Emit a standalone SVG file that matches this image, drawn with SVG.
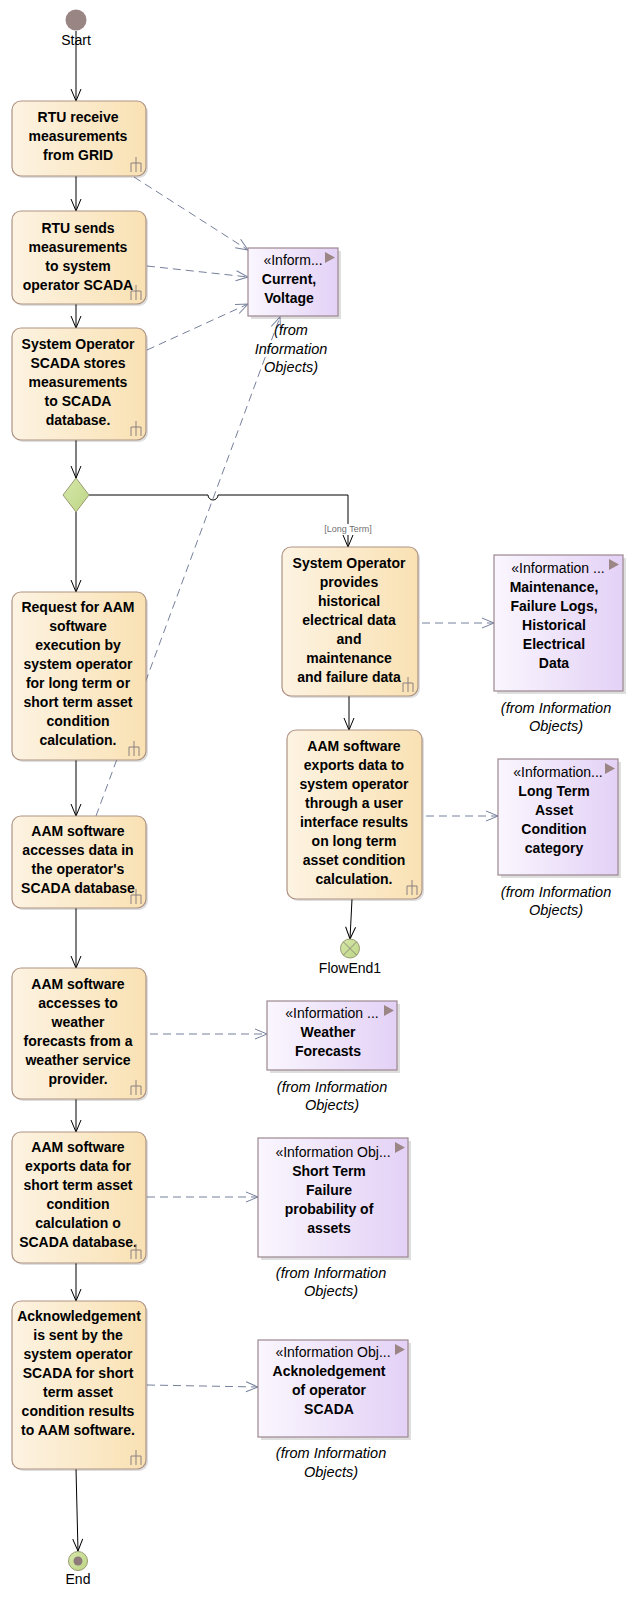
<svg xmlns="http://www.w3.org/2000/svg" width="636" height="1610" viewBox="0 0 636 1610">
<style>
text{font-family:"Liberation Sans",Arial,sans-serif;fill:#000}
.b{font-weight:bold;font-size:14px;text-anchor:middle}
.st{font-size:14px;text-anchor:middle}
.fr{font-style:italic;font-size:14.5px;text-anchor:middle}
.lbl{font-size:14px;text-anchor:middle}
.guard{font-size:9px;fill:#707070;text-anchor:middle}
.act{fill:url(#actG);stroke:#ae9384;stroke-width:1.2}
.info{fill:url(#infoG);stroke:#9c8890;stroke-width:1.2}
.sh{fill:#000;opacity:0.13}
.icon{fill:none;stroke:#8c8080;stroke-width:1}
.tri{fill:#9b8585}
.flow{fill:none;stroke:#000;stroke-width:1;marker-end:url(#arr)}
.dep{fill:none;stroke:#76809c;stroke-width:1;stroke-dasharray:8 5;marker-end:url(#darr)}
</style>
<defs>
<linearGradient id="actG" x1="0" y1="0" x2="1" y2="0"><stop offset="0" stop-color="#fdf3e2"/><stop offset="1" stop-color="#f9e1b3"/></linearGradient>
<linearGradient id="infoG" x1="0" y1="0" x2="1" y2="0"><stop offset="0" stop-color="#faf6fe"/><stop offset="1" stop-color="#e3d1f6"/></linearGradient>
<linearGradient id="grnG" x1="0" y1="0" x2="1" y2="1"><stop offset="0" stop-color="#d6e8aa"/><stop offset="1" stop-color="#bdd585"/></linearGradient>
<marker id="arr" viewBox="-1 -7 14 14" refX="12" refY="0" markerWidth="14" markerHeight="14" markerUnits="userSpaceOnUse" orient="auto"><path d="M0,-5 L12,0 L0,5" fill="none" stroke="#000" stroke-width="1"/></marker>
<marker id="darr" viewBox="-1 -7 14 14" refX="12" refY="0" markerWidth="14" markerHeight="14" markerUnits="userSpaceOnUse" orient="auto"><path d="M0,-5 L12,0 L0,5" fill="none" stroke="#76809c" stroke-width="1"/></marker>
</defs>
<rect width="636" height="1610" fill="#fff"/>

<g id="connectors">
<path class="flow" d="M76,31 L76,101"/>
<path class="flow" d="M76,176 L76,211"/>
<path class="flow" d="M76,304 L76,328"/>
<path class="flow" d="M76,440 L76,478"/>
<path class="flow" d="M76,512 L76,592"/>
<path class="flow" d="M89,495 L208,495 A5,5 0 0 0 218,495 L348,495 L348,547"/>
<rect x="323" y="524" width="50" height="11" fill="#fff"/>
<text class="guard" x="348" y="532">[Long Term]</text>
<path class="flow" d="M349,696 L349,730"/>
<path class="flow" d="M352,899 L350,939"/>
<path class="flow" d="M76,760 L76,816"/>
<path class="flow" d="M76,908 L76,968"/>
<path class="flow" d="M76,1099 L76,1132"/>
<path class="flow" d="M76,1263 L76,1301"/>
<path class="flow" d="M76,1469 L78,1551"/>
<path class="dep" d="M134,177 L248,250"/>
<path class="dep" d="M147,266 L248,277"/>
<path class="dep" d="M147,350 L248,304"/>
<path class="dep" d="M96,816 L280,317"/>
<path class="dep" d="M422,623 L494,623"/>
<path class="dep" d="M426,816 L498,816"/>
<path class="dep" d="M150,1034 L267,1034"/>
<path class="dep" d="M147,1197 L258,1197"/>
<path class="dep" d="M147,1385 L258,1387"/>
</g>

<g id="start">
<circle cx="76" cy="20" r="10.5" fill="#9a8585"/>
<text class="lbl" x="76" y="45">Start</text>
</g>

<g id="a1">
<rect class="sh" x="14" y="103" width="134" height="75" rx="9"/>
<rect class="act" x="12" y="101" width="134" height="75" rx="9"/>
<text class="b" x="78"><tspan x="78" y="122">RTU receive</tspan><tspan x="78" y="141">measurements</tspan><tspan x="78" y="160">from GRID</tspan></text>
<path class="icon" d="M136,157 V172 M131,172 V163 H141 V172"/>
</g>

<g id="a2">
<rect class="sh" x="14" y="213" width="134" height="93" rx="9"/>
<rect class="act" x="12" y="211" width="134" height="93" rx="9"/>
<text class="b"><tspan x="78" y="233">RTU sends</tspan><tspan x="78" y="252">measurements</tspan><tspan x="78" y="271">to system</tspan><tspan x="78" y="290">operator SCADA</tspan></text>
<path class="icon" d="M136,285 V300 M131,300 V291 H141 V300"/>
</g>

<g id="a3">
<rect class="sh" x="14" y="330" width="134" height="112" rx="9"/>
<rect class="act" x="12" y="328" width="134" height="112" rx="9"/>
<text class="b"><tspan x="78" y="349">System Operator</tspan><tspan x="78" y="368">SCADA stores</tspan><tspan x="78" y="387">measurements</tspan><tspan x="78" y="406">to SCADA</tspan><tspan x="78" y="425">database.</tspan></text>
<path class="icon" d="M136,421 V436 M131,436 V427 H141 V436"/>
</g>

<g id="decision">
<path d="M76,478 L89,495 L76,512 L63,495 Z" fill="url(#grnG)" stroke="#9a9a70" stroke-width="1"/>
</g>

<g id="a4">
<rect class="sh" x="14" y="594" width="134" height="168" rx="9"/>
<rect class="act" x="12" y="592" width="134" height="168" rx="9"/>
<text class="b"><tspan x="78" y="612">Request for AAM</tspan><tspan x="78" y="631">software</tspan><tspan x="78" y="650">execution by</tspan><tspan x="78" y="669">system operator</tspan><tspan x="78" y="688">for long term or</tspan><tspan x="78" y="707">short term asset</tspan><tspan x="78" y="726">condition</tspan><tspan x="78" y="745">calculation.</tspan></text>
<path class="icon" d="M134,741 V756 M129,756 V747 H139 V756"/>
</g>

<g id="a5">
<rect class="sh" x="14" y="818" width="134" height="92" rx="9"/>
<rect class="act" x="12" y="816" width="134" height="92" rx="9"/>
<text class="b"><tspan x="78" y="836">AAM software</tspan><tspan x="78" y="855">accesses data in</tspan><tspan x="78" y="874">the operator's</tspan><tspan x="78" y="893">SCADA database</tspan></text>
<path class="icon" d="M136,889 V904 M131,904 V895 H141 V904"/>
</g>

<g id="a6">
<rect class="sh" x="284" y="549" width="136" height="149" rx="9"/>
<rect class="act" x="282" y="547" width="136" height="149" rx="9"/>
<text class="b"><tspan x="349" y="568">System Operator</tspan><tspan x="349" y="587">provides</tspan><tspan x="349" y="606">historical</tspan><tspan x="349" y="625">electrical data</tspan><tspan x="349" y="644">and</tspan><tspan x="349" y="663">maintenance</tspan><tspan x="349" y="682">and failure data</tspan></text>
<path class="icon" d="M408,677 V692 M403,692 V683 H413 V692"/>
</g>

<g id="a7">
<rect class="sh" x="289" y="732" width="135" height="169" rx="9"/>
<rect class="act" x="287" y="730" width="135" height="169" rx="9"/>
<text class="b"><tspan x="354" y="751">AAM software</tspan><tspan x="354" y="770">exports data to</tspan><tspan x="354" y="789">system operator</tspan><tspan x="354" y="808">through a user</tspan><tspan x="354" y="827">interface results</tspan><tspan x="354" y="846">on long term</tspan><tspan x="354" y="865">asset condition</tspan><tspan x="354" y="884">calculation.</tspan></text>
<path class="icon" d="M412,880 V895 M407,895 V886 H417 V895"/>
</g>

<g id="flowend">
<circle cx="350" cy="948.5" r="9.5" fill="url(#grnG)" stroke="#9a9a70" stroke-width="1"/>
<path d="M343.3,941.8 L356.7,955.2 M356.7,941.8 L343.3,955.2" stroke="#8c8a78" stroke-width="1"/>
<text class="lbl" x="350" y="973">FlowEnd1</text>
</g>

<g id="a8">
<rect class="sh" x="14" y="970" width="134" height="131" rx="9"/>
<rect class="act" x="12" y="968" width="134" height="131" rx="9"/>
<text class="b"><tspan x="78" y="989">AAM software</tspan><tspan x="78" y="1008">accesses to</tspan><tspan x="78" y="1027">weather</tspan><tspan x="78" y="1046">forecasts from a</tspan><tspan x="78" y="1065">weather service</tspan><tspan x="78" y="1084">provider.</tspan></text>
<path class="icon" d="M136,1080 V1095 M131,1095 V1086 H141 V1095"/>
</g>

<g id="a9">
<rect class="sh" x="14" y="1134" width="134" height="131" rx="9"/>
<rect class="act" x="12" y="1132" width="134" height="131" rx="9"/>
<text class="b"><tspan x="78" y="1152">AAM software</tspan><tspan x="78" y="1171">exports data  for</tspan><tspan x="78" y="1190">short term asset</tspan><tspan x="78" y="1209">condition</tspan><tspan x="78" y="1228">calculation o</tspan><tspan x="78" y="1247">SCADA database.</tspan></text>
<path class="icon" d="M136,1244 V1259 M131,1259 V1250 H141 V1259"/>
</g>

<g id="a10">
<rect class="sh" x="14" y="1303" width="134" height="168" rx="9"/>
<rect class="act" x="12" y="1301" width="134" height="168" rx="9"/>
<text class="b"><tspan x="79" y="1321">Acknowledgement</tspan><tspan x="78" y="1340">is sent by the</tspan><tspan x="78" y="1359">system operator</tspan><tspan x="78" y="1378">SCADA for short</tspan><tspan x="78" y="1397">term asset</tspan><tspan x="78" y="1416">condition results</tspan><tspan x="78" y="1435">to AAM software.</tspan></text>
<path class="icon" d="M136,1450 V1465 M131,1465 V1456 H141 V1465"/>
</g>

<g id="end">
<circle cx="78" cy="1561" r="9.5" fill="url(#grnG)" stroke="#9a9a70" stroke-width="1"/>
<circle cx="78" cy="1561" r="4.5" fill="#8e7a7a"/>
<text class="lbl" x="78" y="1584">End</text>
</g>

<g id="i1">
<rect class="sh" x="251" y="251" width="90" height="68"/>
<rect class="info" x="248" y="248" width="90" height="68"/>
<path class="tri" d="M325,252 L335,257.5 L325,263 Z"/>
<text class="st" x="293" y="265">«Inform...</text>
<text class="b"><tspan x="289" y="284">Current,</tspan><tspan x="289" y="303">Voltage</tspan></text>
<text class="fr"><tspan x="291" y="335">(from</tspan><tspan x="291" y="354">Information</tspan><tspan x="291" y="372">Objects)</tspan></text>
</g>

<g id="i2">
<rect class="sh" x="497" y="558" width="129" height="136"/>
<rect class="info" x="494" y="555" width="129" height="136"/>
<path class="tri" d="M609,559 L619,564.5 L609,570 Z"/>
<text class="st" x="558" y="573">«Information ...</text>
<text class="b"><tspan x="554" y="592">Maintenance,</tspan><tspan x="554" y="611">Failure Logs,</tspan><tspan x="554" y="630">Historical</tspan><tspan x="554" y="649">Electrical</tspan><tspan x="554" y="668">Data</tspan></text>
<text class="fr"><tspan x="556" y="713">(from Information</tspan><tspan x="556" y="731">Objects)</tspan></text>
</g>

<g id="i3">
<rect class="sh" x="501" y="762" width="120" height="116"/>
<rect class="info" x="498" y="759" width="120" height="116"/>
<path class="tri" d="M605,763 L615,768.5 L605,774 Z"/>
<text class="st" x="558" y="777">«Information...</text>
<text class="b"><tspan x="554" y="796">Long Term</tspan><tspan x="554" y="815">Asset</tspan><tspan x="554" y="834">Condition</tspan><tspan x="554" y="853">category</tspan></text>
<text class="fr"><tspan x="556" y="897">(from Information</tspan><tspan x="556" y="915">Objects)</tspan></text>
</g>

<g id="i4">
<rect class="sh" x="270" y="1004" width="130" height="69"/>
<rect class="info" x="267" y="1001" width="130" height="69"/>
<path class="tri" d="M384,1005 L394,1010.5 L384,1016 Z"/>
<text class="st" x="332" y="1018">«Information ...</text>
<text class="b"><tspan x="328" y="1037">Weather</tspan><tspan x="328" y="1056">Forecasts</tspan></text>
<text class="fr"><tspan x="332" y="1092">(from Information</tspan><tspan x="332" y="1110">Objects)</tspan></text>
</g>

<g id="i5">
<rect class="sh" x="261" y="1141" width="150" height="119"/>
<rect class="info" x="258" y="1138" width="150" height="119"/>
<path class="tri" d="M395,1142 L405,1147.5 L395,1153 Z"/>
<text class="st" x="333" y="1157">«Information Obj...</text>
<text class="b"><tspan x="329" y="1176">Short Term</tspan><tspan x="329" y="1195">Failure</tspan><tspan x="329" y="1214">probability of</tspan><tspan x="329" y="1233">assets</tspan></text>
<text class="fr"><tspan x="331" y="1278">(from Information</tspan><tspan x="331" y="1296">Objects)</tspan></text>
</g>

<g id="i6">
<rect class="sh" x="261" y="1343" width="150" height="97"/>
<rect class="info" x="258" y="1340" width="150" height="97"/>
<path class="tri" d="M395,1344 L405,1349.5 L395,1355 Z"/>
<text class="st" x="333" y="1357">«Information Obj...</text>
<text class="b"><tspan x="329" y="1376">Acknoledgement</tspan><tspan x="329" y="1395">of operator</tspan><tspan x="329" y="1414">SCADA</tspan></text>
<text class="fr"><tspan x="331" y="1458">(from Information</tspan><tspan x="331" y="1477">Objects)</tspan></text>
</g>
</svg>
